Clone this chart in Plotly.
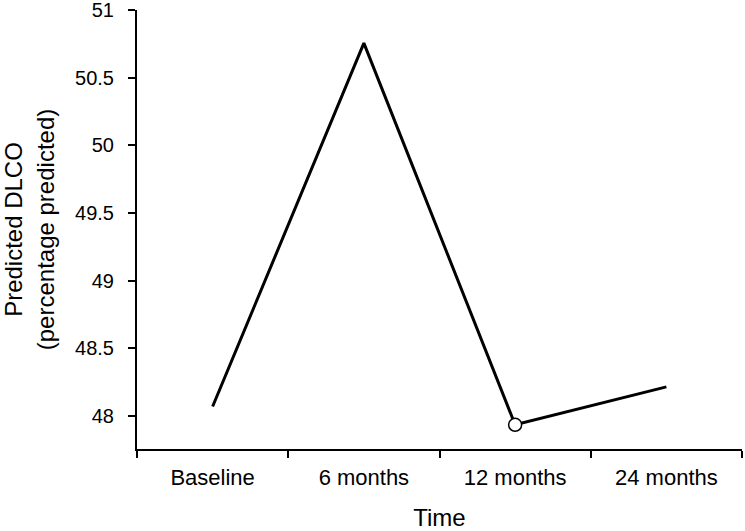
import plotly.graph_objects as go

time_points = ["Baseline", "6 months", "12 months", "24 months"]
dlco = [48.07, 50.755, 47.935, 48.215]
y_ticks = [48, 48.5, 49, 49.5, 50, 50.5, 51]

fig = go.Figure()
fig.add_trace(go.Scatter(x=time_points, y=dlco, mode="lines",
                         line=dict(color="black", width=3), showlegend=False))
# open circle at 12 months only
fig.add_trace(go.Scatter(x=[time_points[2]], y=[dlco[2]], mode="markers",
                         marker=dict(symbol="circle", size=13, color="white",
                                     line=dict(color="black", width=1.5)),
                         showlegend=False))

fig.update_xaxes(title=dict(text="Time", font=dict(size=24), standoff=20),
                 range=[-0.5, 3.5], tickson="boundaries", ticks="outside",
                 ticklen=7, tickwidth=1.5, tickcolor="black",
                 showline=True, linecolor="black", linewidth=2,
                 showgrid=False, tickfont=dict(size=22), ticklabelstandoff=8,
                 automargin=False)
fig.update_yaxes(title=dict(text="Predicted DLCO<br>(percentage predicted)",
                            font=dict(size=24), standoff=14),
                 range=[47.756, 51], tickvals=y_ticks,
                 ticktext=[f"{v:g}" for v in y_ticks],
                 ticks="outside", ticklen=7, tickwidth=1.5, tickcolor="black",
                 showline=True, linecolor="black", linewidth=2,
                 showgrid=False, zeroline=False, tickfont=dict(size=20),
                 ticklabelstandoff=10, ticklabeloverflow="allow", automargin=False)
fig.update_layout(width=745, height=531, plot_bgcolor="white", paper_bgcolor="white",
                  margin=dict(l=137, r=3, t=10, b=82),
                  font=dict(family="Liberation Sans, Arial, sans-serif", color="black"))

# page has a default 8px body margin; drop it so the figure sits at 0,0
fig.write_html("out.html", config={"displayModeBar": False},
               post_script="document.body.style.margin='0';")
